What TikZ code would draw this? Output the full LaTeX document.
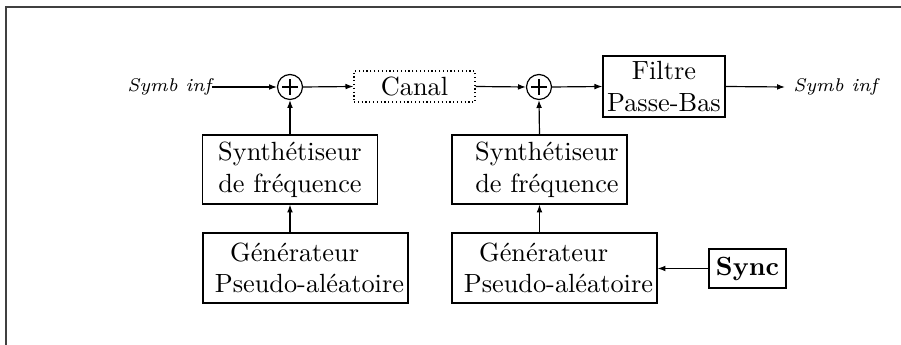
\documentclass[tikz,border=0pt]{standalone}
\usetikzlibrary{arrows.meta}
\begin{document}
\begin{tikzpicture}[x=0.38pt,y=-0.38pt,
  blk/.style={draw,line width=0.45pt,inner sep=0pt,align=center},
  sumnode/.style={draw,circle,line width=0.45pt,minimum size=9.5pt,inner sep=0pt,
    path picture={\draw[line width=0.4pt] ([xshift=-2.9pt]path picture bounding box.center) -- ([xshift=2.9pt]path picture bounding box.center)
      ([yshift=-2.9pt]path picture bounding box.center) -- ([yshift=2.9pt]path picture bounding box.center);}},
  sig/.style={font=\scriptsize\itshape},
  arr/.style={-{Latex[length=3pt,width=2.2pt]},line width=0.45pt}]
\useasboundingbox (0,0) rectangle (901,345);
\clip (0,0) rectangle (901,345);
\draw[line width=0.6pt,black!75] (6,7) rectangle (1000,1000);

\node[sig,anchor=east,inner sep=0pt] (sin) at (212,87) {Symb inf};
\node[sumnode] (c1) at (290,87) {};
\node[blk,densely dotted,minimum width=46pt,minimum height=11.8pt] (canal) at (414.5,86.5) {Canal};
\node[sumnode] (c2) at (539,87) {};
\node[blk,minimum width=46.4pt,minimum height=23.2pt] (filtre) at (664,86.5) {Filtre\\Passe-Bas};
\node[sig,anchor=west,inner sep=3pt] (sout) at (785,87) {Symb inf};

\node[blk,minimum width=66.3pt,minimum height=26.2pt] (syn1) at (290,169.5) {Synthétiseur\\de fréquence};
\node[blk,align=left,minimum width=77.9pt,minimum height=26.6pt] (gen1) at (305.5,268)
  {\hspace*{8.8pt}Générateur\\\hspace*{3pt}Pseudo-aléatoire};

\node[blk,minimum width=66.5pt,minimum height=26.2pt] (syn2) at (539.5,169.5)
  {\hspace*{5.7pt}Synthétiseur\\\hspace*{5.7pt}de fréquence};
\node[blk,align=left,minimum width=77.9pt,minimum height=26.6pt] (gen2) at (554.5,268)
  {\hspace*{8.8pt}Générateur\\\hspace*{3pt}Pseudo-aléatoire};
\node[blk,minimum width=29.3pt,minimum height=14.8pt,font=\bfseries] (sync) at (747.5,268.5) {Sync};

\draw[arr] (sin.east) -- (c1.west);
\draw[arr] (c1.east) -- (canal.west);
\draw[arr] (canal.east) -- (c2.west);
\draw[arr] (c2.east) -- (filtre.west);
\draw[arr] (filtre.east) -- (sout.west);
\draw[arr] (syn1.north) -- (c1.south);
\draw[arr] (gen1.north -| syn1.south) -- (syn1.south);
\draw[arr] (syn2.north) -- (c2.south);
\draw[arr] (gen2.north -| syn2.south) -- (syn2.south);
\draw[arr] (sync.west) -- (gen2.east |- sync.west);
\end{tikzpicture}
\end{document}
